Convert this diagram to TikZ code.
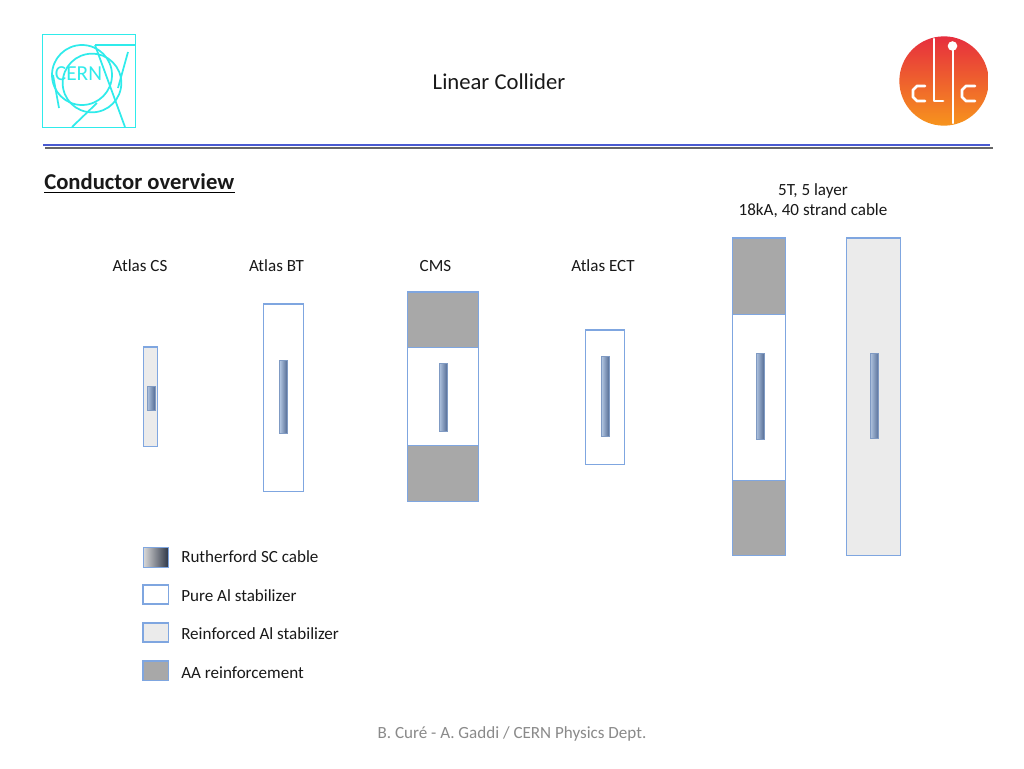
\documentclass[tikz,border=0pt]{standalone}
\usepackage{fontspec}
\setmainfont{Carlito}
\definecolor{edgeblue}{HTML}{7FA6E0}
\definecolor{lightfill}{HTML}{EBEBEB}
\definecolor{aafill}{HTML}{A8A8A8}
\definecolor{logocyan}{HTML}{2FEBEB}
\definecolor{ruleblue}{HTML}{4A5AD0}
\definecolor{rulegray}{HTML}{666666}
\definecolor{footgray}{HTML}{8A8A8A}
\definecolor{cableleft}{HTML}{B0C4E0}
\definecolor{cablemid}{HTML}{7E8086}
\definecolor{cableright}{HTML}{566E96}
\definecolor{legdark}{HTML}{2C3444}
\definecolor{legmid}{HTML}{8A8C92}
\definecolor{clictop}{HTML}{E62E3E}
\definecolor{clicbot}{HTML}{F7941D}
\tikzset{
  x=0.75pt,y=-0.75pt,
  box/.style={draw=edgeblue,line width=0.8pt},
  purebox/.style={box,fill=white},
  reinfbox/.style={box,fill=lightfill},
  aabox/.style={box,fill=aafill},
  cablebox/.style={draw=edgeblue!70!gray,line width=0.5pt,left color=cableleft,middle color=cablemid,right color=cableright},
  darkcable/.style={draw=edgeblue,line width=0.6pt,left color=lightfill!85!gray,middle color=legmid,right color=legdark},
  label/.style={font=\fontsize{12.8}{15}\selectfont,text=black!90,inner sep=0pt},
  leglabel/.style={label,anchor=west},
  cernline/.style={draw=logocyan,line width=1.3pt},
  clicline/.style={draw=white,line width=2.1pt,line cap=round,line join=round},
}
\begin{document}
\begin{tikzpicture}
\useasboundingbox (0,0) rectangle (1024,768);
\fill[white] (0,0) rectangle (1024,768);
% CERN logo
\draw[cernline,line width=0.7pt] (42.8,34.8) rectangle (135,127.5);
\draw[cernline,line width=2.2pt] (95,45) -- (135,45);
\draw[cernline] (82,75) circle [radius=22.5pt];
\draw[cernline] (92,83) circle [radius=22pt];
\draw[cernline] (95,45) -- (125,127);
\draw[cernline] (128,52) -- (118,88);
\draw[cernline] (72,127) -- (97,103);
\draw[cernline] (53,75) -- (59,108);
\node[text=logocyan,font=\fontsize{16}{16}\selectfont,inner sep=0pt] (cern) at (78.5,74) {CERN};
% CLIC logo
\shade[top color=clictop,bottom color=clicbot] (944,81) circle [radius=33.5pt];
\draw[clicline] (925,86) -- (917,86) -- (913,90) -- (913,97) -- (917,101) -- (925,101);
\draw[clicline] (934,39) -- (934,101) -- (943,101);
\draw[clicline] (953,50) -- (953,123);
\fill[white] (952.5,46) circle [radius=3.6pt];
\draw[clicline] (975,86) -- (966,86) -- (962,90) -- (962,97) -- (966,101) -- (975,101);
% title
\node[label,font=\fontsize{17}{20}\selectfont] (title) at (499,82) {Linear Collider};
\draw[draw=rulegray,line width=1.5pt] (45,148) -- (993,148);
\draw[draw=ruleblue,line width=1.8pt] (43,145) -- (990,145);
\node[label,anchor=west,font=\bfseries\fontsize{17}{20}\selectfont] (heading) at (44,181.5) {Conductor overview};
\draw[black,line width=0.9pt] (44,192.5) -- (235,192.5);
% column titles
\node[label] (atlascs) at (140,266) {Atlas CS};
\node[label] (atlasbt) at (276.5,266) {Atlas BT};
\node[label] (cms) at (435.5,266) {CMS};
\node[label] (atlasect) at (603,266) {Atlas ECT};
\node[label,align=center,font=\fontsize{12.8}{15.5}\selectfont] (fivet) at (813,200.5) {5T, 5 layer\\18kA, 40 strand cable};
% Atlas CS
\draw[reinfbox] (143.8,347) rectangle (157.8,446.2);
\shade[cablebox,draw] (147.3,386) rectangle (155,410.2);
% Atlas BT
\draw[purebox] (263.9,304) rectangle (303.8,491.2);
\shade[cablebox,draw] (279.8,360.5) rectangle (287,433);
% CMS
\draw[aabox] (407.9,292) rectangle (478.8,347.8);
\draw[purebox] (407.9,347.8) rectangle (478.8,445.8);
\draw[aabox] (407.9,445.8) rectangle (478.8,501.8);
\shade[cablebox,draw] (439.2,363) rectangle (447,431);
% Atlas ECT
\draw[purebox] (585.9,330) rectangle (624.8,464.2);
\shade[cablebox,draw] (601.7,356.3) rectangle (609,436.7);
% 5T
\draw[aabox] (732.9,238) rectangle (785.8,314.8);
\draw[purebox] (732.9,314.8) rectangle (785.8,480.8);
\draw[aabox] (732.9,480.8) rectangle (785.8,555.8);
\shade[cablebox,draw] (756.2,353.3) rectangle (764,439.5);
% 5T reinforced
\draw[reinfbox] (846.9,238) rectangle (900.8,555.8);
\shade[cablebox,draw] (870.2,353.3) rectangle (878.7,438.5);
% legend
\shade[darkcable,draw] (143,547) rectangle (168.7,567);
\draw[purebox] (143,585) rectangle (168.7,604);
\draw[reinfbox] (143,623) rectangle (168.7,642);
\draw[aabox] (143,661) rectangle (168.7,680.7);
\node[leglabel] (leg1) at (181,557) {Rutherford SC cable};
\node[leglabel] (leg2) at (181,596) {Pure Al stabilizer};
\node[leglabel] (leg3) at (181,634) {Reinforced Al stabilizer};
\node[leglabel] (leg4) at (181,673) {AA reinforcement};
% footer
\node[label,text=footgray] (footer) at (512,733.5) {B. Curé - A. Gaddi / CERN Physics Dept.};
\end{tikzpicture}
\end{document}
